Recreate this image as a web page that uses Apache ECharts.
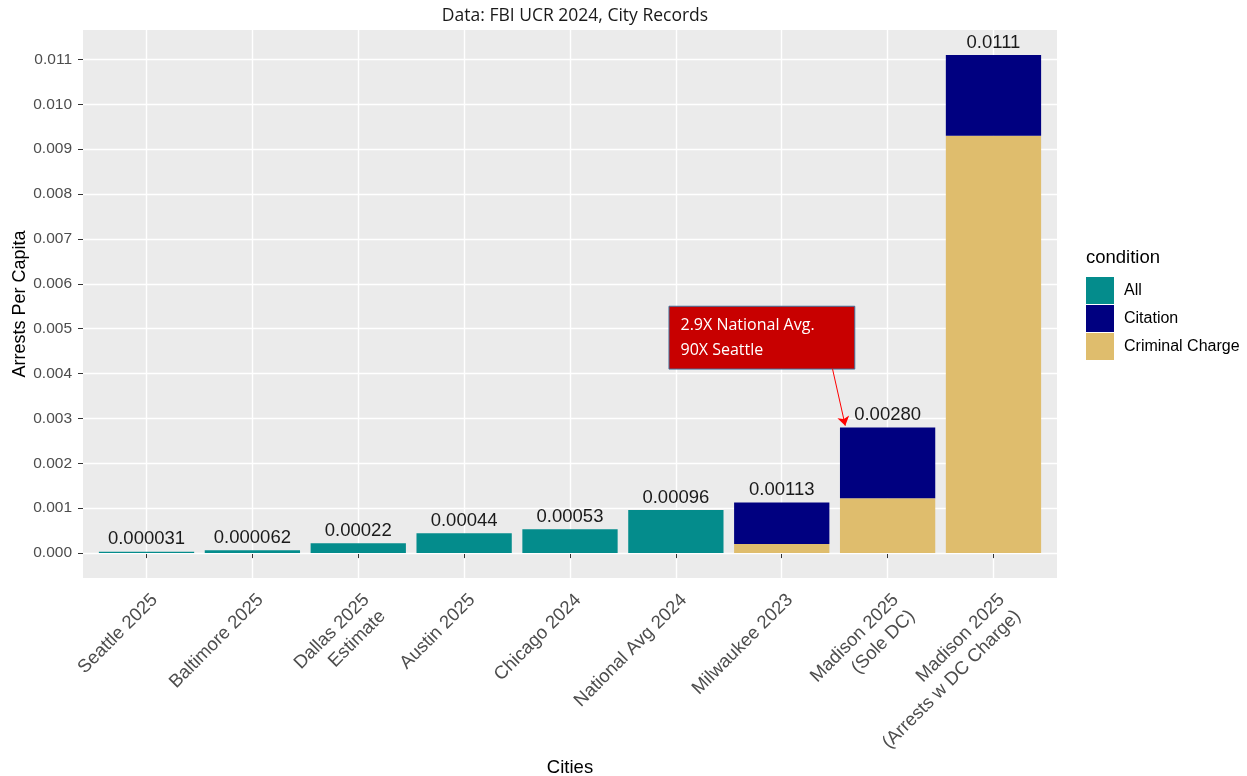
<!DOCTYPE html>
<html>
<head>
<meta charset="utf-8">
<script src="https://cdn.jsdelivr.net/npm/echarts@6/dist/echarts.min.js"></script>
<style>
  html, body { margin: 0; padding: 0; background: #fff; }
  #chart { width: 1247px; height: 776px; }
</style>
</head>
<body>
<div id="chart"></div>
<script>
// categories on the x axis
const cities = [
  'Seattle 2025', 'Baltimore 2025', 'Dallas 2025\nEstimate', 'Austin 2025',
  'Chicago 2024', 'National Avg 2024', 'Milwaukee 2023',
  'Madison 2025\n(Sole DC)', 'Madison 2025\n(Arrests w DC Charge)'
]
const positions = [1, 2, 3, 4, 5, 6, 7, 8, 9]

// values per condition
const allVals = [0.000031, 0.000062, 0.00022, 0.00044, 0.00053, 0.00096, null, null, null]
const criminalVals = [null, null, null, null, null, null, 0.0002, 0.00122, 0.0093]
const citationVals = [null, null, null, null, null, null, 0.00093, 0.00158, 0.0018]

// text shown above each bar
const totalLabels = ['0.000031', '0.000062', '0.00022', '0.00044', '0.00053', '0.00096', '0.00113', '0.00280', '0.0111']

// axis ticks
const yMajor = [0, 0.001, 0.002, 0.003, 0.004, 0.005, 0.006, 0.007, 0.008, 0.009, 0.010, 0.011]
const yMinor = [0.0005, 0.0015, 0.0025, 0.0035, 0.0045, 0.0055, 0.0065, 0.0075, 0.0085, 0.0095, 0.0105, 0.0115]

const FONT = '"Liberation Sans", Arial, sans-serif'
const NOTE_FONT = '"Open Sans", "Noto Sans", sans-serif'
const Y_MIN = -0.000555
const Y_MAX = 0.011655

// panel: x 83..1057, y 30..578; discrete axis padded by 0.6 of a band on each side
const PANEL_L = 83
const PANEL_R = 1057
const PANEL_T = 30
const PANEL_B = 578
const BAND = (PANEL_R - PANEL_L) / 9.2
const INNER_PAD = 0.1 * BAND

const chart = echarts.init(document.getElementById('chart'))

// bars: the top segment of each stack carries the total label
function barData (vals, topIdx) {
  return vals.map((v, i) => {
    if (topIdx.indexOf(i) < 0) return v
    return {
      value: v,
      label: {
        show: true,
        position: 'top',
        distance: 3,
        formatter: totalLabels[i],
        fontFamily: FONT,
        fontSize: 18.5,
        color: '#1a1a1a'
      }
    }
  })
}

chart.setOption({
  animation: false,
  title: {
    text: 'Data: FBI UCR 2024, City Records',
    left: (PANEL_L + PANEL_R) / 2,
    top: 2,
    textAlign: 'center',
    textStyle: {
      fontFamily: NOTE_FONT,
      fontSize: 17.5,
      fontWeight: 'normal',
      color: '#1a1a1a'
    }
  },
  grid: [
    {
      left: PANEL_L,
      right: 1247 - PANEL_R,
      top: PANEL_T,
      bottom: 776 - PANEL_B,
      show: true,
      backgroundColor: '#ebebeb',
      borderWidth: 0,
      containLabel: false,
      outerBoundsMode: 'none'
    },
    {
      left: PANEL_L + INNER_PAD,
      right: 1247 - PANEL_R + INNER_PAD,
      top: PANEL_T,
      bottom: 776 - PANEL_B,
      show: false,
      containLabel: false,
      outerBoundsMode: 'none'
    }
  ],
  legend: {
    data: ['All', 'Citation', 'Criminal Charge'],
    orient: 'vertical',
    left: 1086,
    top: 277,
    padding: 0,
    itemWidth: 28,
    itemHeight: 27,
    itemGap: 1,
    icon: 'rect',
    selectedMode: false,
    textStyle: {
      fontFamily: FONT,
      fontSize: 16,
      color: '#000',
      padding: [0, 0, 0, 5]
    }
  },
  graphic: [
    {
      type: 'text',
      left: 1086,
      top: 248,
      style: {
        text: 'condition',
        fontFamily: FONT,
        fontSize: 18.5,
        fill: '#000'
      }
    },
    {
      // y axis title
      type: 'text',
      x: 20,
      y: (PANEL_T + PANEL_B) / 2,
      rotation: Math.PI / 2,
      style: {
        text: 'Arrests Per Capita',
        fontFamily: FONT,
        fontSize: 18,
        fill: '#000',
        align: 'center',
        verticalAlign: 'middle'
      }
    }
  ],
  xAxis: [
    {
      gridIndex: 0,
      type: 'value',
      min: 0.4,
      max: 9.6,
      name: 'Cities',
      nameLocation: 'middle',
      nameGap: 180,
      nameTextStyle: { fontFamily: FONT, fontSize: 18.5, color: '#000' },
      axisLine: { show: false },
      axisTick: {
        show: true,
        customValues: positions,
        length: 5,
        lineStyle: { color: '#333', width: 1 }
      },
      axisLabel: { show: false },
      splitLine: { show: true, lineStyle: { color: '#ffffff', width: 1.4 } }
    },
    {
      gridIndex: 1,
      type: 'category',
      data: cities,
      axisLine: { show: false },
      axisTick: { show: false },
      splitLine: { show: false },
      axisLabel: {
        interval: 0,
        rotate: 45,
        align: 'right',
        verticalAlign: 'top',
        margin: 11,
        fontFamily: FONT,
        fontSize: 18.5,
        lineHeight: 23,
        color: '#4d4d4d'
      }
    }
  ],
  yAxis: [
    {
      gridIndex: 0,
      type: 'value',
      min: Y_MIN,
      max: Y_MAX,
      axisLine: { show: false },
      axisTick: {
        show: true,
        customValues: yMajor,
        length: 5,
        lineStyle: { color: '#333', width: 1 }
      },
      axisLabel: {
        customValues: yMajor,
        margin: 11,
        fontFamily: FONT,
        fontSize: 15.5,
        color: '#4d4d4d',
        formatter: v => v.toFixed(3)
      },
      splitLine: { show: true, lineStyle: { color: '#ffffff', width: 1.4 } }
    },
    {
      gridIndex: 1,
      type: 'value',
      min: Y_MIN,
      max: Y_MAX,
      show: false,
      splitLine: { show: false }
    }
  ],
  series: [
    {
      name: 'All',
      type: 'bar',
      xAxisIndex: 1,
      yAxisIndex: 1,
      stack: 'total',
      barWidth: '90%',
      itemStyle: { color: '#048c8c' },
      data: barData(allVals, [0, 1, 2, 3, 4, 5])
    },
    {
      name: 'Criminal Charge',
      type: 'bar',
      xAxisIndex: 1,
      yAxisIndex: 1,
      stack: 'total',
      barWidth: '90%',
      itemStyle: { color: '#dfbd6d' },
      data: barData(criminalVals, [])
    },
    {
      name: 'Citation',
      type: 'bar',
      xAxisIndex: 1,
      yAxisIndex: 1,
      stack: 'total',
      barWidth: '90%',
      itemStyle: { color: '#000080' },
      data: barData(citationVals, [6, 7, 8])
    },
    {
      // minor grid lines + annotation box
      name: 'notes',
      type: 'scatter',
      xAxisIndex: 0,
      yAxisIndex: 0,
      data: [],
      silent: true,
      markLine: {
        silent: true,
        z: 1,
        symbol: ['none', 'none'],
        label: { show: false },
        lineStyle: { color: '#ffffff', width: 0.7, type: 'solid' },
        data: yMinor.map(v => ({ yAxis: v }))
      },
      markArea: {
        silent: true,
        itemStyle: { color: '#c80000', borderColor: '#41719c', borderWidth: 1, opacity: 1 },
        label: {
          show: true,
          position: 'insideLeft',
          distance: 12,
          formatter: '2.9X National Avg.\n90X Seattle',
          fontFamily: NOTE_FONT,
          fontSize: 16,
          lineHeight: 25,
          color: '#ffffff'
        },
        data: [[{ coord: [5.935, 0.0055] }, { coord: [7.69, 0.0041] }]]
      }
    },
    {
      name: 'arrow',
      type: 'scatter',
      xAxisIndex: 0,
      yAxisIndex: 0,
      data: [],
      silent: true,
      markLine: {
        silent: true,
        symbol: ['none', 'arrow'],
        symbolSize: 9,
        label: { show: false },
        lineStyle: { color: '#ff0000', width: 1, type: 'solid' },
        data: [[{ coord: [7.48, 0.0041] }, { coord: [7.6, 0.00284] }]]
      }
    }
  ]
})
</script>
</body>
</html>
